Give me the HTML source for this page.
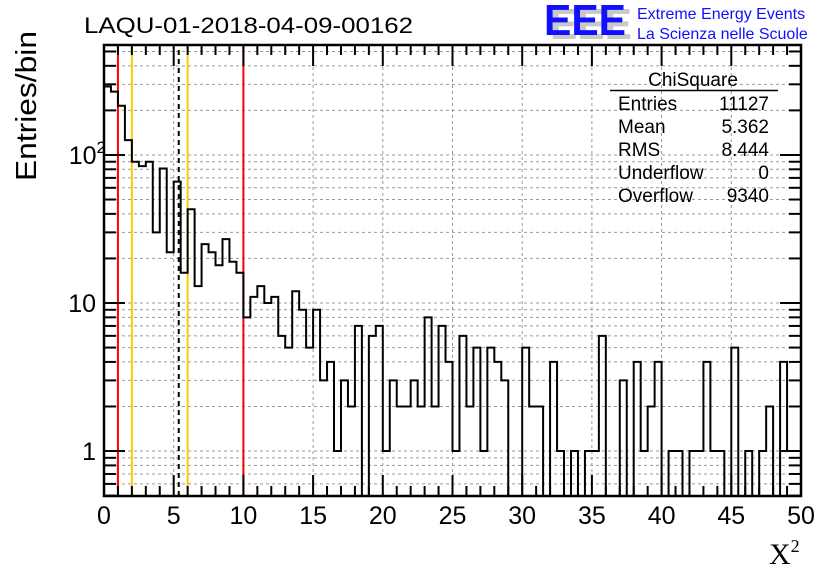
<!DOCTYPE html>
<html><head><meta charset="utf-8"><style>
html,body{margin:0;padding:0;background:#fff;}
svg{display:block;font-family:"Liberation Sans",sans-serif;}
</style></head><body>
<svg id="c" width="836" height="572" viewBox="0 0 836 572">
<rect width="836" height="572" fill="#fff"/>
<g id="grid"></g>
<g id="marks"></g>
<g id="hist"></g>
<g id="axes"></g>
<text x="84" y="33" font-size="22" textLength="329" lengthAdjust="spacingAndGlyphs">LAQU-01-2018-04-09-00162</text>
<text transform="translate(36,106) rotate(-90)" text-anchor="middle" font-size="29" textLength="150" lengthAdjust="spacingAndGlyphs">Entries/bin</text>
<text x="769" y="564" font-size="30" font-family="Liberation Serif, serif">X<tspan dy="-12" font-size="18">2</tspan></text>
<g>
<text x="550" y="39" font-size="44" font-weight="bold" fill="#c8c8c8" textLength="82" lengthAdjust="spacingAndGlyphs">EEE</text>
<text x="544" y="35" font-size="44" font-weight="bold" fill="#1010ff" textLength="82" lengthAdjust="spacingAndGlyphs">EEE</text>
<text x="637" y="19" font-size="16" fill="#1010ff">Extreme Energy Events</text>
<text x="637" y="39" font-size="16" fill="#1010ff">La Scienza nelle Scuole</text>
</g>
<g font-size="19">
<text x="693" y="86" text-anchor="middle">ChiSquare</text>
<line x1="610" y1="90.5" x2="778" y2="90.5" stroke="#000" stroke-width="1.5"/>
<text x="618" y="110">Entries</text><text x="769" y="110" text-anchor="end">11127</text>
<text x="618" y="133">Mean</text><text x="769" y="133" text-anchor="end">5.362</text>
<text x="618" y="156">RMS</text><text x="769" y="156" text-anchor="end">8.444</text>
<text x="618" y="179">Underflow</text><text x="769" y="179" text-anchor="end">0</text>
<text x="618" y="202">Overflow</text><text x="769" y="202" text-anchor="end">9340</text>
</g>
</svg>
<script>
const counts = [290,268,215,126,90,84,90,30,81,22,66,16,43,13,25,22,18,27,19,16,
8,11,13,10,11,6,5,12,9,5,9,3,4,1,3,2,7,0,6,7,
1,3,2,2,3,2,8,2,7,4,1,6,2,5,1,5,4,3,0,0,
5,2,2,0,4,1,0,1,0,1,1,6,0,0,3,0,4,1,2,4,
0,1,1,0,1,1,4,1,1,0,5,0,1,0,1,2,0,4,1,1];
const xTicks = [0,5,10,15,20,25,30,35,40,45,50];
const yTickLabels = ["1","10","10²"];
const yTickValues = [1,10,100];
const markerRed = [1,10];
const markerYellow = [2,6];
const meanValue = [5.362];
const X0=104,X1=801,Y0=496,Y1=45;
const XMIN=0,XMAX=50,BINW=0.5;
const YMIN=0.497, YMAX=553;
const ns="http://www.w3.org/2000/svg";
function xs(v){return X0+(v-XMIN)/(XMAX-XMIN)*(X1-X0);}
function ys(v){if(v<=0)return Y0;const y=Y0-(Math.log10(v)-Math.log10(YMIN))/(Math.log10(YMAX)-Math.log10(YMIN))*(Y0-Y1);return Math.max(Y1,Math.min(Y0,y));}
function mk(tag,attrs,parent){const e=document.createElementNS(ns,tag);for(const k in attrs)e.setAttribute(k,attrs[k]);parent.appendChild(e);return e;}
const grid=document.getElementById('grid'),axes=document.getElementById('axes'),hist=document.getElementById('hist'),marks=document.getElementById('marks');
for(const t of xTicks){if(t===XMIN||t===XMAX)continue;const l=mk('line',{x1:xs(t),x2:xs(t),y1:Y0,y2:Y1,stroke:'#999','stroke-dasharray':'3,3','stroke-width':1},grid);

}
for(let d=-1;d<=2;d++){for(let m=1;m<=9;m++){const v=m*Math.pow(10,d);if(v<YMIN||v>YMAX)continue;const y=ys(v);
const l=mk('line',{x1:X0,x2:X1,y1:y,y2:y,stroke:'#999','stroke-dasharray':'3,3','stroke-width':1},grid);


const tk=mk('line',{x1:X0,x2:X0+(m===1?21:12),y1:y,y2:y,stroke:'#000','stroke-width':2},axes);


const tk2=mk('line',{x1:X1,x2:X1-(m===1?21:12),y1:y,y2:y,stroke:'#000','stroke-width':2},axes);

}}
function vline(v,color,dash,name){const l=mk('line',{x1:xs(v),x2:xs(v),y1:Y0,y2:Y1,stroke:color,'stroke-width':2},marks);if(dash)l.setAttribute('stroke-dasharray',dash);

}
markerRed.forEach(v=>vline(v,'#ff0000',null,'red-marker-line'));
markerYellow.forEach(v=>vline(v,'#ffcc00',null,'yellow-marker-line'));
meanValue.forEach(v=>vline(v,'#000','5,4','mean-marker-line'));
let d='M'+xs(0)+','+Y0;
counts.forEach((c,i)=>{const y=ys(c);d+=' L'+xs(i*BINW)+','+y+' L'+xs((i+1)*BINW)+','+y;});
d+=' L'+xs(counts.length*BINW)+','+Y0;
const p=mk('path',{d:d,fill:'none',stroke:'#000','stroke-width':2},hist);


const fr=mk('rect',{x:X0,y:Y1,width:X1-X0,height:Y0-Y1,fill:'none',stroke:'#000','stroke-width':2.5},axes);


for(let v=XMIN;v<=XMAX;v+=1){const maj=(v%5===0);const x=xs(v);
const a=mk('line',{x1:x,x2:x,y1:Y0,y2:Y0-(maj?21:10),stroke:'#000','stroke-width':2},axes);


const b=mk('line',{x1:x,x2:x,y1:Y1,y2:Y1+(maj?21:10),stroke:'#000','stroke-width':2},axes);

}
xTicks.forEach(t=>{const tx=mk('text',{x:xs(t),y:524,'text-anchor':'middle','font-size':25},axes);tx.textContent=String(t);

});
yTickValues.forEach((v,i)=>{const tx=mk('text',{x:96,y:ys(v)+9,'text-anchor':'end','font-size':25},axes);
if(yTickLabels[i]==='10²'){tx.textContent='10';const s=mk('tspan',{dy:-11,'font-size':17},tx);s.textContent='2';tx.setAttribute('x',106);}
else tx.textContent=yTickLabels[i];

});
</script>
</body></html>
